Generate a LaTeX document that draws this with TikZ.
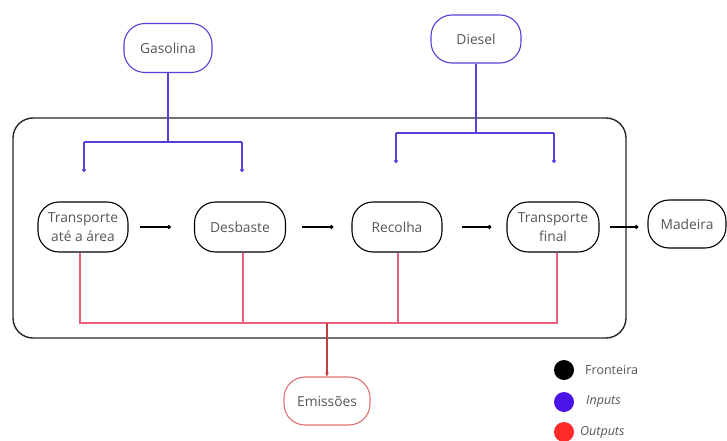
\documentclass[tikz,border=0pt]{standalone}
\usepackage{fontspec}
\setmainfont{Open Sans}
\usetikzlibrary{arrows.meta}
\definecolor{inpc}{HTML}{5A3CDC}
\definecolor{outc}{HTML}{E8607A}
\definecolor{emic}{HTML}{E07070}
\definecolor{emil}{HTML}{C04040}
\definecolor{txt}{HTML}{555555}
\definecolor{legp}{HTML}{4A14E8}
\definecolor{legr}{HTML}{FF2A2A}
\tikzset{
  box/.style={draw=black, line width=1.1pt, rectangle, rounded corners=21pt,
    minimum width=#1, minimum height=50pt, inner sep=1pt, align=center,
    text=txt, font=\fontsize{13.8}{19.5}\selectfont},
  box/.default=90pt,
  inbox/.style={box=#1, draw=inpc, minimum height=49pt},
  outbox/.style={box=#1, draw=emic, minimum height=48pt},
  flow/.style={line width=1.1pt, -{Circle[length=4pt]}},
  inline/.style={draw=inpc, line width=1.1pt},
  inarr/.style={inline, -{Circle[length=4pt]}},
  outline/.style={draw=outc, line width=1.1pt},
  legdot/.style={circle, minimum size=20pt, inner sep=0pt},
  legtxt/.style={anchor=west, text=txt, font=\fontsize{12.5}{14}\selectfont, inner sep=0pt},
}
\begin{document}
\begin{tikzpicture}[x=1pt,y=-1pt]
\useasboundingbox (0,0) rectangle (727,441);
% boundary
\draw[line width=1.4pt, draw=black!85, rounded corners=20pt] (13,118) rectangle (626,338);
% nodes
\node[inbox=88pt] (gas) at (168,48) {Gasolina};
\node[inbox=90pt, minimum height=48pt] (die) at (476,39) {Diesel};
\node[box=90pt] (t1) at (83,227) {Transporte\\até a área};
\node[box=91pt] (desb) at (240,227) {Desbaste};
\node[box=90pt] (rec) at (397,227) {Recolha};
\node[box=92pt] (tf) at (553,227) {Transporte\\final};
\node[box=78pt, minimum height=48pt] (mad) at (687,224) {Madeira};
\node[outbox=86pt] (emi) at (327,401) {Emissões};
% flow arrows
\draw[flow] ([xshift=11pt]t1.east) -- ([xshift=-23pt]desb.west);
\draw[flow] ([xshift=16pt]desb.east) -- ([xshift=-18pt]rec.west);
\draw[flow] ([xshift=19pt]rec.east) -- ([xshift=-15pt]tf.west);
\draw[flow] ([xshift=10pt]tf.east) -- ([xshift=-9pt]tf.east -| mad.west);
% inputs
\coordinate (gj) at (168,142);
\coordinate (gl) at (84,142);
\coordinate (gr) at (242,142);
\coordinate (gle) at (84,172);
\coordinate (gre) at (242,172);
\draw[inline] (gas.south) -- (gj);
\draw[inline] (gl) -- (gr);
\draw[inarr] (gl) -- (gle);
\draw[inarr] (gr) -- (gre);
\coordinate (dj) at (476,133);
\coordinate (dl) at (396,133);
\coordinate (dr) at (554,133);
\coordinate (dle) at (396,163);
\coordinate (dre) at (554,163);
\draw[inline] (die.south) -- (dj);
\draw[inline] (dl) -- (dr);
\draw[inarr] (dl) -- (dle);
\draw[inarr] (dr) -- (dre);
% outputs
\coordinate (o1) at (80,323);
\coordinate (o2) at (243,323);
\coordinate (o3) at (398,323);
\coordinate (o4) at (557,323);
\coordinate (oj) at (327,323);
\draw[outline] (t1.south -| o1) -- (o1) -- (o4) -- (tf.south -| o4);
\draw[outline] (desb.south -| o2) -- (o2);
\draw[outline] (rec.south -| o3) -- (o3);
\draw[draw=emil, line width=1.1pt, -{Stealth[length=4pt,width=4pt]}] (oj) -- (emi.north);
% legend
\node[legdot, fill=black] (l1) at (564,370) {};
\node[legdot, fill=legp] (l2) at (564,402) {};
\node[legdot, fill=legr] (l3) at (564,432) {};
\node[legtxt] (t1l) at (585,370) {Fronteira};
\node[legtxt] (t2l) at (586,402) {\itshape Inputs};
\node[legtxt] (t3l) at (580,432) {\itshape Outputs};
\end{tikzpicture}
\end{document}
